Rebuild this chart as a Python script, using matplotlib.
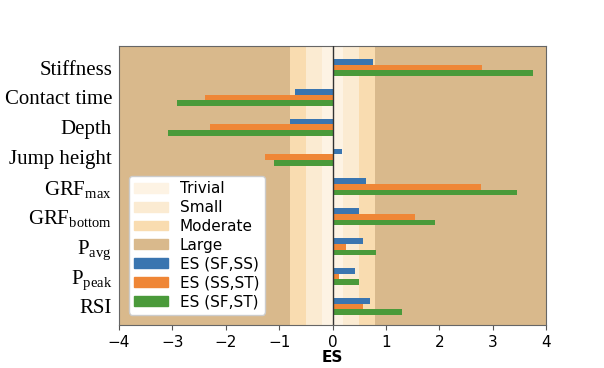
import numpy as np
import matplotlib.pyplot as plt
from matplotlib.patches import Patch

plt.rcParams['mathtext.fontset'] = 'custom'
plt.rcParams['mathtext.rm'] = 'Liberation Serif'

measures = ["Stiffness", "Contact time", "Depth", "Jump height",
            r"GRF$_{\mathrm{max}}$", r"GRF$_{\mathrm{bottom}}$",
            r"P$_{\mathrm{avg}}$", r"P$_{\mathrm{peak}}$", "RSI"]
es_sf_ss = [0.75, -0.71, -0.79, 0.17, 0.62, 0.50, 0.57, 0.42, 0.71]
es_ss_st = [2.81, -2.38, -2.29, -1.27, 2.78, 1.54, 0.26, 0.12, 0.57]
es_sf_st = [3.75, -2.92, -3.08, -1.10, 3.45, 1.92, 0.82, 0.49, 1.31]

# effect size thresholds and band colours
band_names = ["Trivial", "Small", "Moderate", "Large"]
band_edges = [0.2, 0.5, 0.8, 4.0]
band_colors = ["#fdf3e4", "#fbebd2", "#f9dcb0", "#d9b98c"]

fig = plt.figure(figsize=(6.04, 3.68), dpi=100)
ax = fig.add_axes([0.197, 0.117, 0.707, 0.758])

for name, hi, c in reversed(list(zip(band_names, band_edges, band_colors))):
    ax.axvspan(-hi, hi, color=c, lw=0, zorder=0)

y = np.arange(len(measures))
h = 0.19
ax.barh(y - h, es_sf_ss, height=h, color="#3a75b0", zorder=2)
ax.barh(y, es_ss_st, height=h, color="#ef8636", zorder=2)
ax.barh(y + h, es_sf_st, height=h, color="#4a9a3a", zorder=2)
ax.axvline(0, color="#333333", lw=1.0, zorder=3)

ax.set_xlim(-4, 4)
ax.set_ylim(8.62, -0.72)
ax.set_yticks(y)
ax.set_yticklabels(measures, family="Liberation Serif", fontsize=15)
ax.tick_params(axis="y", length=0, pad=5)
ax.tick_params(axis="x", labelsize=11, color="#555555")
ax.set_xlabel("ES", fontweight="bold", fontsize=11, labelpad=0)
for s in ax.spines.values():
    s.set_color("#666666")

handles = [Patch(color=c, label=n) for n, c in zip(band_names, band_colors)]
handles += [Patch(color="#3a75b0", label="ES (SF,SS)"),
            Patch(color="#ef8636", label="ES (SS,ST)"),
            Patch(color="#4a9a3a", label="ES (SF,ST)")]
ax.legend(handles=handles, loc="lower left", fontsize=11, framealpha=1,
          handlelength=2.2, handleheight=0.6, labelspacing=0.25,
          borderpad=0.35, bbox_to_anchor=(0.005, 0.01))

fig.savefig("out.png", dpi=100)
